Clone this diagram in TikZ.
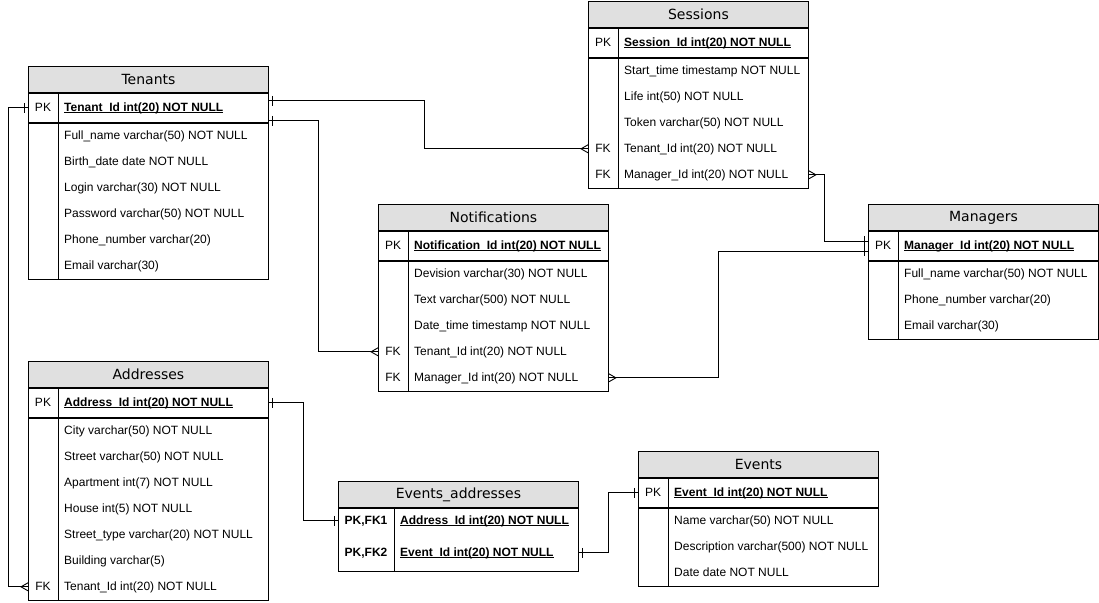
\documentclass[tikz,border=0pt]{standalone}
\usepackage{fontspec}
\setmainfont{Liberation Sans}
\newfontfamily\titlefont{DejaVu Sans}
\usetikzlibrary{calc}

% Underline set close to the baseline, as for key columns
\newcommand\keyul[1]{\setbox0\hbox{#1}\rlap{\rule[-1.6pt]{\wd0}{0.8pt}}\box0}

\tikzset{
  frame/.style={line width=0.9pt},
  hdr/.style={frame, draw, fill=black!12, anchor=north west, inner sep=0pt,
    font=\titlefont\fontsize{14}{16}\selectfont},
  cell/.style={frame, draw, anchor=north west, inner sep=0pt},
  keytxt/.style={anchor=base, inner sep=0pt, font=\fontsize{12}{14}\selectfont},
  fldtxt/.style={anchor=base west, inner sep=0pt, font=\fontsize{12}{14}\selectfont},
  pktxt/.style={fldtxt, font=\bfseries\fontsize{12}{14}\selectfont},
  bkeytxt/.style={keytxt, font=\bfseries\fontsize{12}{14}\selectfont},
  link/.style={line width=0.9pt},
}

% Entity table: #1 id, #2 x, #3 y, #4 width, #5 title, #6 primary key,
% #7 rows (key/text), #8 number of rows
\newcommand\ertable[8]{%
  \node[hdr, minimum width=#4pt, minimum height=26pt] (#1-h) at (#2,#3) {#5};
  \node[cell, minimum width=#4pt, minimum height=29pt] (#1-pk) at (#1-h.south west) {};
  \node[cell, minimum width=#4pt, minimum height=26pt*#8] (#1-body) at (#1-pk.south west) {};
  \draw[frame] ($(#1-pk.north west)+(30pt,0)$) -- ($(#1-body.south west)+(30pt,0)$);
  \node[keytxt] (#1-pkk) at ($(#1-pk.west)+(15pt,-3.6pt)$) {PK};
  \node[pktxt] (#1-pkf) at ($(#1-pk.west)+(36pt,-3.6pt)$) {\keyul{#6}};
  \foreach \k/\t [count=\i] in {#7} {
    \node[keytxt] (#1-k\i) at ($(#1-body.north west)+(15pt,{-16.6pt-26pt*(\i-1)})$) {\k};
    \node[fldtxt] (#1-r\i) at ($(#1-body.north west)+(36pt,{-16.6pt-26pt*(\i-1)})$) {\t};
  }%
}

% Relationship ends: #1 point on the table edge, #2 = +1 if the line leaves to the right, -1 to the left
\newcommand\onemark[2]{%
  \draw[link] ($(#1)+({#2*4pt},5pt)$) -- ($(#1)+({#2*4pt},-5pt)$);}
\newcommand\manymark[2]{%
  \draw[link] ($(#1)+(0,4pt)$) -- ($(#1)+({#2*7pt},0)$) -- ($(#1)+(0,-4pt)$);}

\begin{document}
\begin{tikzpicture}[x=1pt, y=-1pt]
\useasboundingbox (0,0) rectangle (1099,602);

\ertable{tn}{28}{66}{240}{Tenants}{Tenant\_Id int(20) NOT NULL}
  {/Full\_name varchar(50) NOT NULL, /Birth\_date date NOT NULL, /Login varchar(30) NOT NULL,
   /Password varchar(50) NOT NULL, /Phone\_number varchar(20), /Email varchar(30)}{6}

\ertable{ss}{588}{1}{220}{Sessions}{Session\_Id int(20) NOT NULL}
  {/Start\_time timestamp NOT NULL, /Life int(50) NOT NULL, /Token varchar(50) NOT NULL,
   FK/Tenant\_Id int(20) NOT NULL, FK/Manager\_Id int(20) NOT NULL}{5}

\ertable{nt}{378}{204}{230}{Notifications}{Notification\_Id int(20) NOT NULL}
  {/Devision varchar(30) NOT NULL, /Text varchar(500) NOT NULL, /Date\_time timestamp NOT NULL,
   FK/Tenant\_Id int(20) NOT NULL, FK/Manager\_Id int(20) NOT NULL}{5}

\ertable{mg}{868}{204}{230}{Managers}{Manager\_Id int(20) NOT NULL}
  {/Full\_name varchar(50) NOT NULL, /Phone\_number varchar(20), /Email varchar(30)}{3}

\ertable{ad}{28}{361}{240}{Addresses}{Address\_Id int(20) NOT NULL}
  {/City varchar(50) NOT NULL, /Street varchar(50) NOT NULL, /Apartment int(7) NOT NULL,
   /House int(5) NOT NULL, /Street\_type varchar(20) NOT NULL, /Building varchar(5),
   FK/Tenant\_Id int(20) NOT NULL}{7}

\ertable{ev}{638}{451}{240}{Events}{Event\_Id int(20) NOT NULL}
  {/Name varchar(50) NOT NULL, /Description varchar(500) NOT NULL, /Date date NOT NULL}{3}

% Link table with a composite key
\node[hdr, minimum width=240pt, minimum height=26pt] (ea-h) at (338,481) {Events\_addresses};
\node[cell, minimum width=240pt, minimum height=63pt] (ea-body) at (ea-h.south west) {};
\draw[frame] ($(ea-body.north west)+(56pt,0)$) -- ($(ea-body.south west)+(56pt,0)$);
\node[bkeytxt] (ea-k1) at ($(ea-body.north west)+(28pt,-16.6pt)$) {PK,FK1};
\node[bkeytxt] (ea-k2) at ($(ea-body.north west)+(28pt,-48.6pt)$) {PK,FK2};
\node[pktxt] (ea-r1) at ($(ea-body.north west)+(62pt,-16.6pt)$) {\keyul{Address\_Id int(20) NOT NULL}};
\node[pktxt] (ea-r2) at ($(ea-body.north west)+(62pt,-48.6pt)$) {\keyul{Event\_Id int(20) NOT NULL}};

% Connector end points
\coordinate (tnA) at ($(tn-pk.north east)+(0,-8pt)$);
\coordinate (tnB) at ($(tn-pk.south east)+(0,2pt)$);
\coordinate (tnC) at (tn-pk.west);
\coordinate (ssT) at ($(ss-body.north west)+(0,-91pt)$);
\coordinate (ssM) at ($(ss-body.north east)+(0,-117pt)$);
\coordinate (ntT) at ($(nt-body.north west)+(0,-91pt)$);
\coordinate (ntM) at ($(nt-body.north east)+(0,-117pt)$);
\coordinate (adT) at ($(ad-body.north west)+(0,-169pt)$);
\coordinate (mgA) at ($(mg-pk.west)+(0,4.5pt)$);
\coordinate (mgB) at ($(mg-pk.west)+(0,-5.5pt)$);
\coordinate (adP) at (ad-pk.east);
\coordinate (eaA) at ($(ea-body.north west)+(0,-13pt)$);
\coordinate (eaE) at ($(ea-body.north east)+(0,-45pt)$);
\coordinate (evP) at (ev-pk.west);

% Relationships
\draw[link] (tnA) -- ++(156,0) |- (ssT);
\onemark{tnA}{1} \manymark{ssT}{-1}

\draw[link] (tnB) -- ++(50,0) |- (ntT);
\onemark{tnB}{1} \manymark{ntT}{-1}

\draw[link] (tnC) -- ++(-20,0) |- (adT);
\onemark{tnC}{-1} \manymark{adT}{-1}

\draw[link] (ssM) -- ++(16,0) |- (mgA);
\manymark{ssM}{1} \onemark{mgA}{-1}

\draw[link] (ntM) -- ++(110,0) |- (mgB);
\manymark{ntM}{1} \onemark{mgB}{-1}

\draw[link] (adP) -- ++(35,0) |- (eaA);
\onemark{adP}{1} \onemark{eaA}{-1}

\draw[link] (eaE) -- ++(30,0) |- (evP);
\onemark{eaE}{1} \onemark{evP}{-1}
\end{tikzpicture}
\end{document}
